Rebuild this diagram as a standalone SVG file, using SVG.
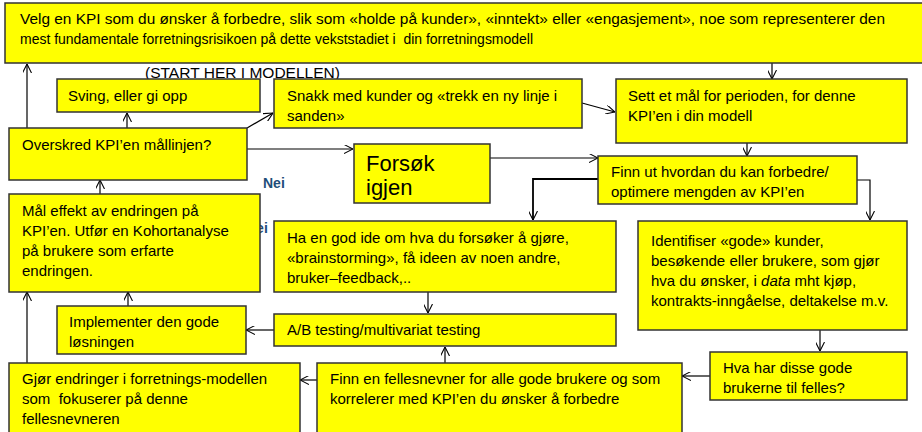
<svg xmlns="http://www.w3.org/2000/svg" width="922" height="432" viewBox="0 0 922 432">
<defs>
<style>
.box{fill:#ffff00;stroke:#333333;stroke-width:1.5}
.t{font-family:"Liberation Sans",Arial,sans-serif;font-size:15px;fill:#000;white-space:pre}
.c{fill:none;stroke:#000;stroke-width:1.2}
.nei{font-family:"Liberation Sans",Arial,sans-serif;font-size:14px;font-weight:bold;fill:#1f4e79}
</style>
<marker id="a" viewBox="0 0 10 10" refX="10" refY="5" markerWidth="9" markerHeight="9" markerUnits="userSpaceOnUse" orient="auto">
<path d="M0,0 L10,5 L0,10" fill="none" stroke="#000" stroke-width="1.2"/>
</marker>
</defs>
<rect width="922" height="432" fill="#fff"/>
<text class="nei" x="246" y="233">Nei</text>
<g id="connectors">
<path class="c" d="M27,128 V64" marker-end="url(#a)"/>
<path class="c" d="M127,128 V113" marker-end="url(#a)"/>
<path class="c" d="M247,128 L273,113" marker-end="url(#a)"/>
<path class="c" d="M582,103 L615,112" marker-end="url(#a)"/>
<path class="c" d="M772,63 V79" marker-end="url(#a)"/>
<path class="c" d="M747,143 V156" marker-end="url(#a)"/>
<path class="c" d="M247,149 H353" marker-end="url(#a)"/>
<path class="c" d="M490,158 H598" marker-end="url(#a)"/>
<path class="c" d="M598,179 H533 V220" marker-end="url(#a)" style="stroke-width:1.8"/>
<path class="c" d="M857,180 H870 V220" marker-end="url(#a)"/>
<path class="c" d="M100,194 V180" marker-end="url(#a)"/>
<path class="c" d="M428,292 V313" marker-end="url(#a)"/>
<path class="c" d="M820,330 V351" marker-end="url(#a)"/>
<path class="c" d="M710,376 H682" marker-end="url(#a)"/>
<path class="c" d="M445,363 V347" marker-end="url(#a)"/>
<path class="c" d="M274,330 H246" marker-end="url(#a)"/>
<path class="c" d="M128,306 V292" marker-end="url(#a)"/>
<path class="c" d="M27,363 V292" marker-end="url(#a)"/>
<path class="c" d="M317,380 H300" marker-end="url(#a)"/>
</g>
<g id="top">
<rect class="box" x="5" y="3" width="925" height="60"/>
<text class="t" x="20" y="24" textLength="865" lengthAdjust="spacingAndGlyphs">Velg en KPI som du ønsker å forbedre, slik som «holde på kunder», «inntekt» eller «engasjement», noe som representerer den</text>
<text class="t" x="20" y="44" textLength="513" lengthAdjust="spacingAndGlyphs">mest fundamentale forretningsrisikoen på dette vekststadiet i  din forretningsmodell</text>
</g>
<text class="t" x="145" y="78" textLength="195" lengthAdjust="spacingAndGlyphs">(START HER I MODELLEN)</text>
<g id="sving">
<rect class="box" x="57" y="79" width="203" height="33"/>
<text class="t" x="68" y="101">Sving, eller gi opp</text>
</g>
<g id="snakk">
<rect class="box" x="274" y="79" width="308" height="49"/>
<text class="t" x="287" y="101">Snakk med kunder og «trekk en ny linje i</text>
<text class="t" x="287" y="121">sanden»</text>
</g>
<g id="sett">
<rect class="box" x="616" y="79" width="291" height="64"/>
<text class="t" x="628" y="101">Sett et mål for perioden, for denne</text>
<text class="t" x="628" y="121">KPI’en i din modell</text>
</g>
<g id="overskred">
<rect class="box" x="9" y="128" width="238" height="52"/>
<text class="t" x="22" y="150">Overskred KPI’en mållinjen?</text>
</g>
<g id="forsok">
<rect class="box" x="354" y="144" width="136" height="59"/>
<text class="t" x="366" y="171" style="font-size:22px">Forsøk</text>
<text class="t" x="366" y="195" style="font-size:22px">igjen</text>
</g>
<text class="nei" x="263" y="188">Nei</text>
<g id="finnut">
<rect class="box" x="598" y="156" width="259" height="48"/>
<text class="t" x="611" y="177">Finn ut hvordan du kan forbedre/</text>
<text class="t" x="611" y="197">optimere mengden av KPI’en</text>
</g>
<g id="maal">
<rect class="box" x="9" y="194" width="251" height="98"/>
<text class="t" x="22" y="216">Mål effekt av endringen på</text>
<text class="t" x="22" y="236">KPI’en. Utfør en Kohortanalyse</text>
<text class="t" x="22" y="256">på brukere som erfarte</text>
<text class="t" x="22" y="276">endringen.</text>
</g>
<g id="ha">
<rect class="box" x="274" y="221" width="342" height="71"/>
<text class="t" x="287" y="243">Ha en god ide om hva du forsøker å gjøre,</text>
<text class="t" x="287" y="263">«brainstorming», få ideen av noen andre,</text>
<text class="t" x="287" y="283">bruker–feedback,..</text>
</g>
<g id="identifiser">
<rect class="box" x="638" y="221" width="269" height="109"/>
<text class="t" x="651" y="246">Identifiser «gode» kunder,</text>
<text class="t" x="651" y="266">besøkende eller brukere, som gjør</text>
<text class="t" x="651" y="286">hva du ønsker, i <tspan font-style="italic">data</tspan> mht kjøp,</text>
<text class="t" x="651" y="306">kontrakts-inngåelse, deltakelse m.v.</text>
</g>
<g id="ab">
<rect class="box" x="274" y="314" width="342" height="32"/>
<text class="t" x="287" y="335">A/B testing/multivariat testing</text>
</g>
<g id="implementer">
<rect class="box" x="57" y="306" width="189" height="48"/>
<text class="t" x="69" y="327">Implementer den gode</text>
<text class="t" x="69" y="347">løsningen</text>
</g>
<g id="hva">
<rect class="box" x="710" y="352" width="197" height="48"/>
<text class="t" x="723" y="373">Hva har disse gode</text>
<text class="t" x="723" y="393">brukerne til felles?</text>
</g>
<g id="finnen">
<rect class="box" x="317" y="363" width="365" height="80"/>
<text class="t" x="330" y="384">Finn en fellesnevner for alle gode brukere og som</text>
<text class="t" x="330" y="404">korrelerer med KPI’en du ønsker å forbedre</text>
</g>
<g id="gjor">
<rect class="box" x="9" y="363" width="291" height="80"/>
<text class="t" x="22" y="384">Gjør endringer i forretnings-modellen</text>
<text class="t" x="22" y="404">som  fokuserer på denne</text>
<text class="t" x="22" y="424">fellesnevneren</text>
</g>
</svg>
